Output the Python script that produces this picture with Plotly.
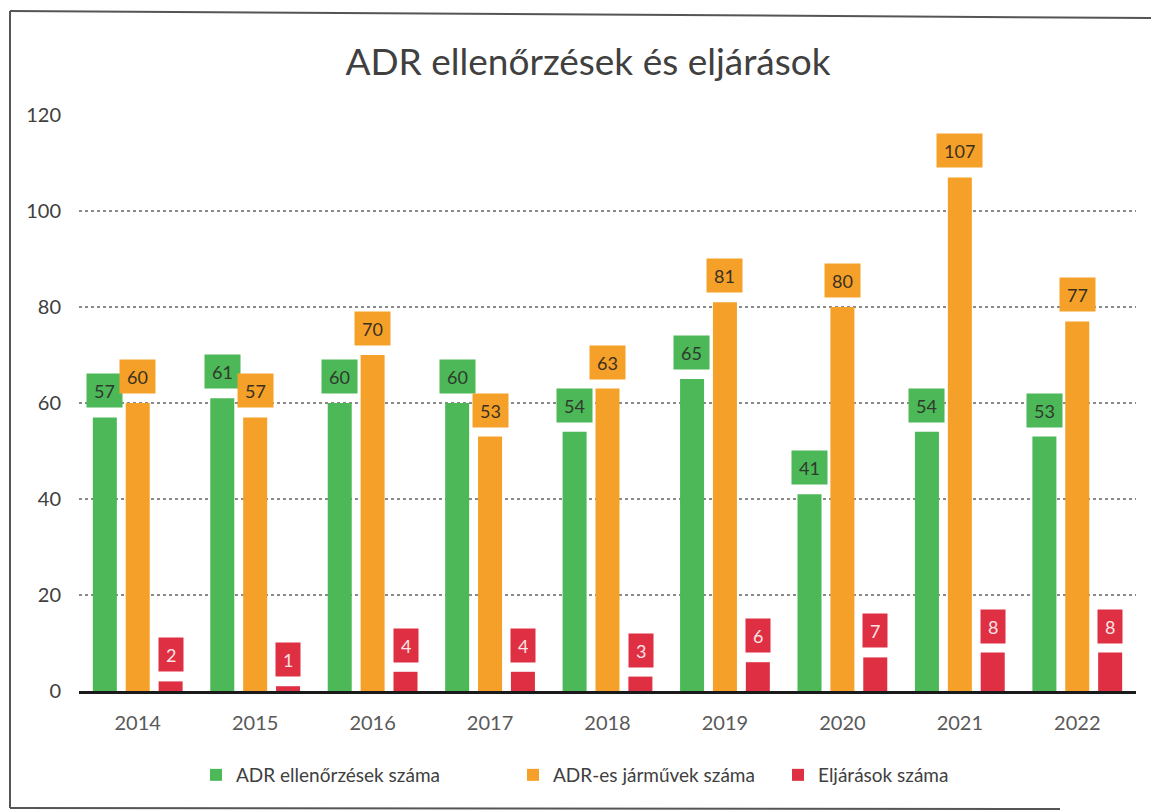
import plotly.graph_objects as go

years = ["2014", "2015", "2016", "2017", "2018", "2019", "2020", "2021", "2022"]
ellenorzesek = [57, 61, 60, 60, 54, 65, 41, 54, 53]
jarmuvek = [60, 57, 70, 53, 63, 81, 80, 107, 77]
eljarasok = [2, 1, 4, 4, 3, 6, 7, 8, 8]

series_names = ["ADR ellenőrzések száma", "ADR-es járművek száma", "Eljárások száma"]
colors = ["#4db858", "#f5a129", "#df2f42"]
label_text_colors = ["#2d3a2d", "#3a3020", "#fbe3e6"]

FONT = "Lato, Open Sans, sans-serif"

OFF = 8  # page body margin
W, H = 1159 - OFF, 812 - OFF
L, R, T, B = 79 - OFF, 23, 115 - OFF, 121
pw = W - L - R
ph = H - T - B


def px_x(p):
    return (p - OFF - L) / pw


def px_y(p):
    return (H - B - (p - OFF)) / ph


legend_ids = ["legend", "legend2", "legend3"]
legend_text_start = [238, 555, 820]

fig = go.Figure()
all_series = [ellenorzesek, jarmuvek, eljarasok]
for name, vals, col, lid in zip(series_names, all_series, colors, legend_ids):
    fig.add_trace(go.Bar(x=years, y=vals, name=name, legend=lid, showlegend=True,
                         marker=dict(color=col, line=dict(width=0))))

offsets = [-33, 0, 33]
annotations = []
for vals, col, tcol, off in zip(all_series, colors, label_text_colors, offsets):
    for i, v in enumerate(vals):
        annotations.append(dict(
            x=i, y=v, xref="x", yref="y", text=str(v), showarrow=False,
            xshift=off, yshift=9, yanchor="bottom", xanchor="center",
            bgcolor=col, borderpad=7, height=19,
            font=dict(family=FONT, size=18, color=tcol),
        ))

shapes = [
    dict(type="line", xref="paper", yref="paper", x0=px_x(10), x1=px_x(10), y0=px_y(11), y1=px_y(808),
         line=dict(color="#555555", width=2)),
    dict(type="line", xref="paper", yref="paper", x0=px_x(10), x1=px_x(1159), y0=px_y(11), y1=px_y(18),
         line=dict(color="#555555", width=2)),
    dict(type="line", xref="paper", yref="paper", x0=px_x(10), x1=px_x(1060), y0=px_y(808), y1=px_y(809),
         line=dict(color="#555555", width=2)),
]

legend_common = dict(orientation="h", yanchor="middle", xanchor="left", y=px_y(775),
                     font=dict(family=FONT, size=19, color="#404040"), itemwidth=30,
                     bgcolor="rgba(0,0,0,0)", borderwidth=0, visible=True)

layout_legends = {}
for lid, ts in zip(legend_ids, legend_text_start):
    layout_legends[lid] = dict(legend_common, x=px_x(ts - 42))

fig.update_layout(
    width=W, height=H,
    margin=dict(l=L, r=R, t=T, b=B),
    paper_bgcolor="white", plot_bgcolor="white",
    showlegend=True,
    barmode="group", bargap=0.16, bargroupgap=0.27,
    title=dict(text="ADR ellenőrzések és eljárások", x=px_x(588), xanchor="center", xref="paper",
               y=1 - (62 - OFF) / H, yanchor="middle",
               font=dict(family=FONT, size=37, color="#404040")),
    font=dict(family=FONT, color="#404040"),
    xaxis=dict(type="category", range=[-0.5, len(years) - 0.5], showline=True, linecolor="#1a1a1a",
               linewidth=2.5, ticks="", showgrid=False, ticklabelstandoff=12,
               tickfont=dict(family=FONT, size=20, color="#595959")),
    yaxis=dict(range=[0, 120], dtick=20, showgrid=True, gridcolor="#8a8a8a", griddash="dot", gridwidth=1.5,
               zeroline=False, showline=False, ticks="", ticklabelstandoff=17,
               tickfont=dict(family=FONT, size=20, color="#404040")),
    annotations=annotations,
    shapes=shapes,
    **layout_legends,
)

fig.write_html("out.html")
